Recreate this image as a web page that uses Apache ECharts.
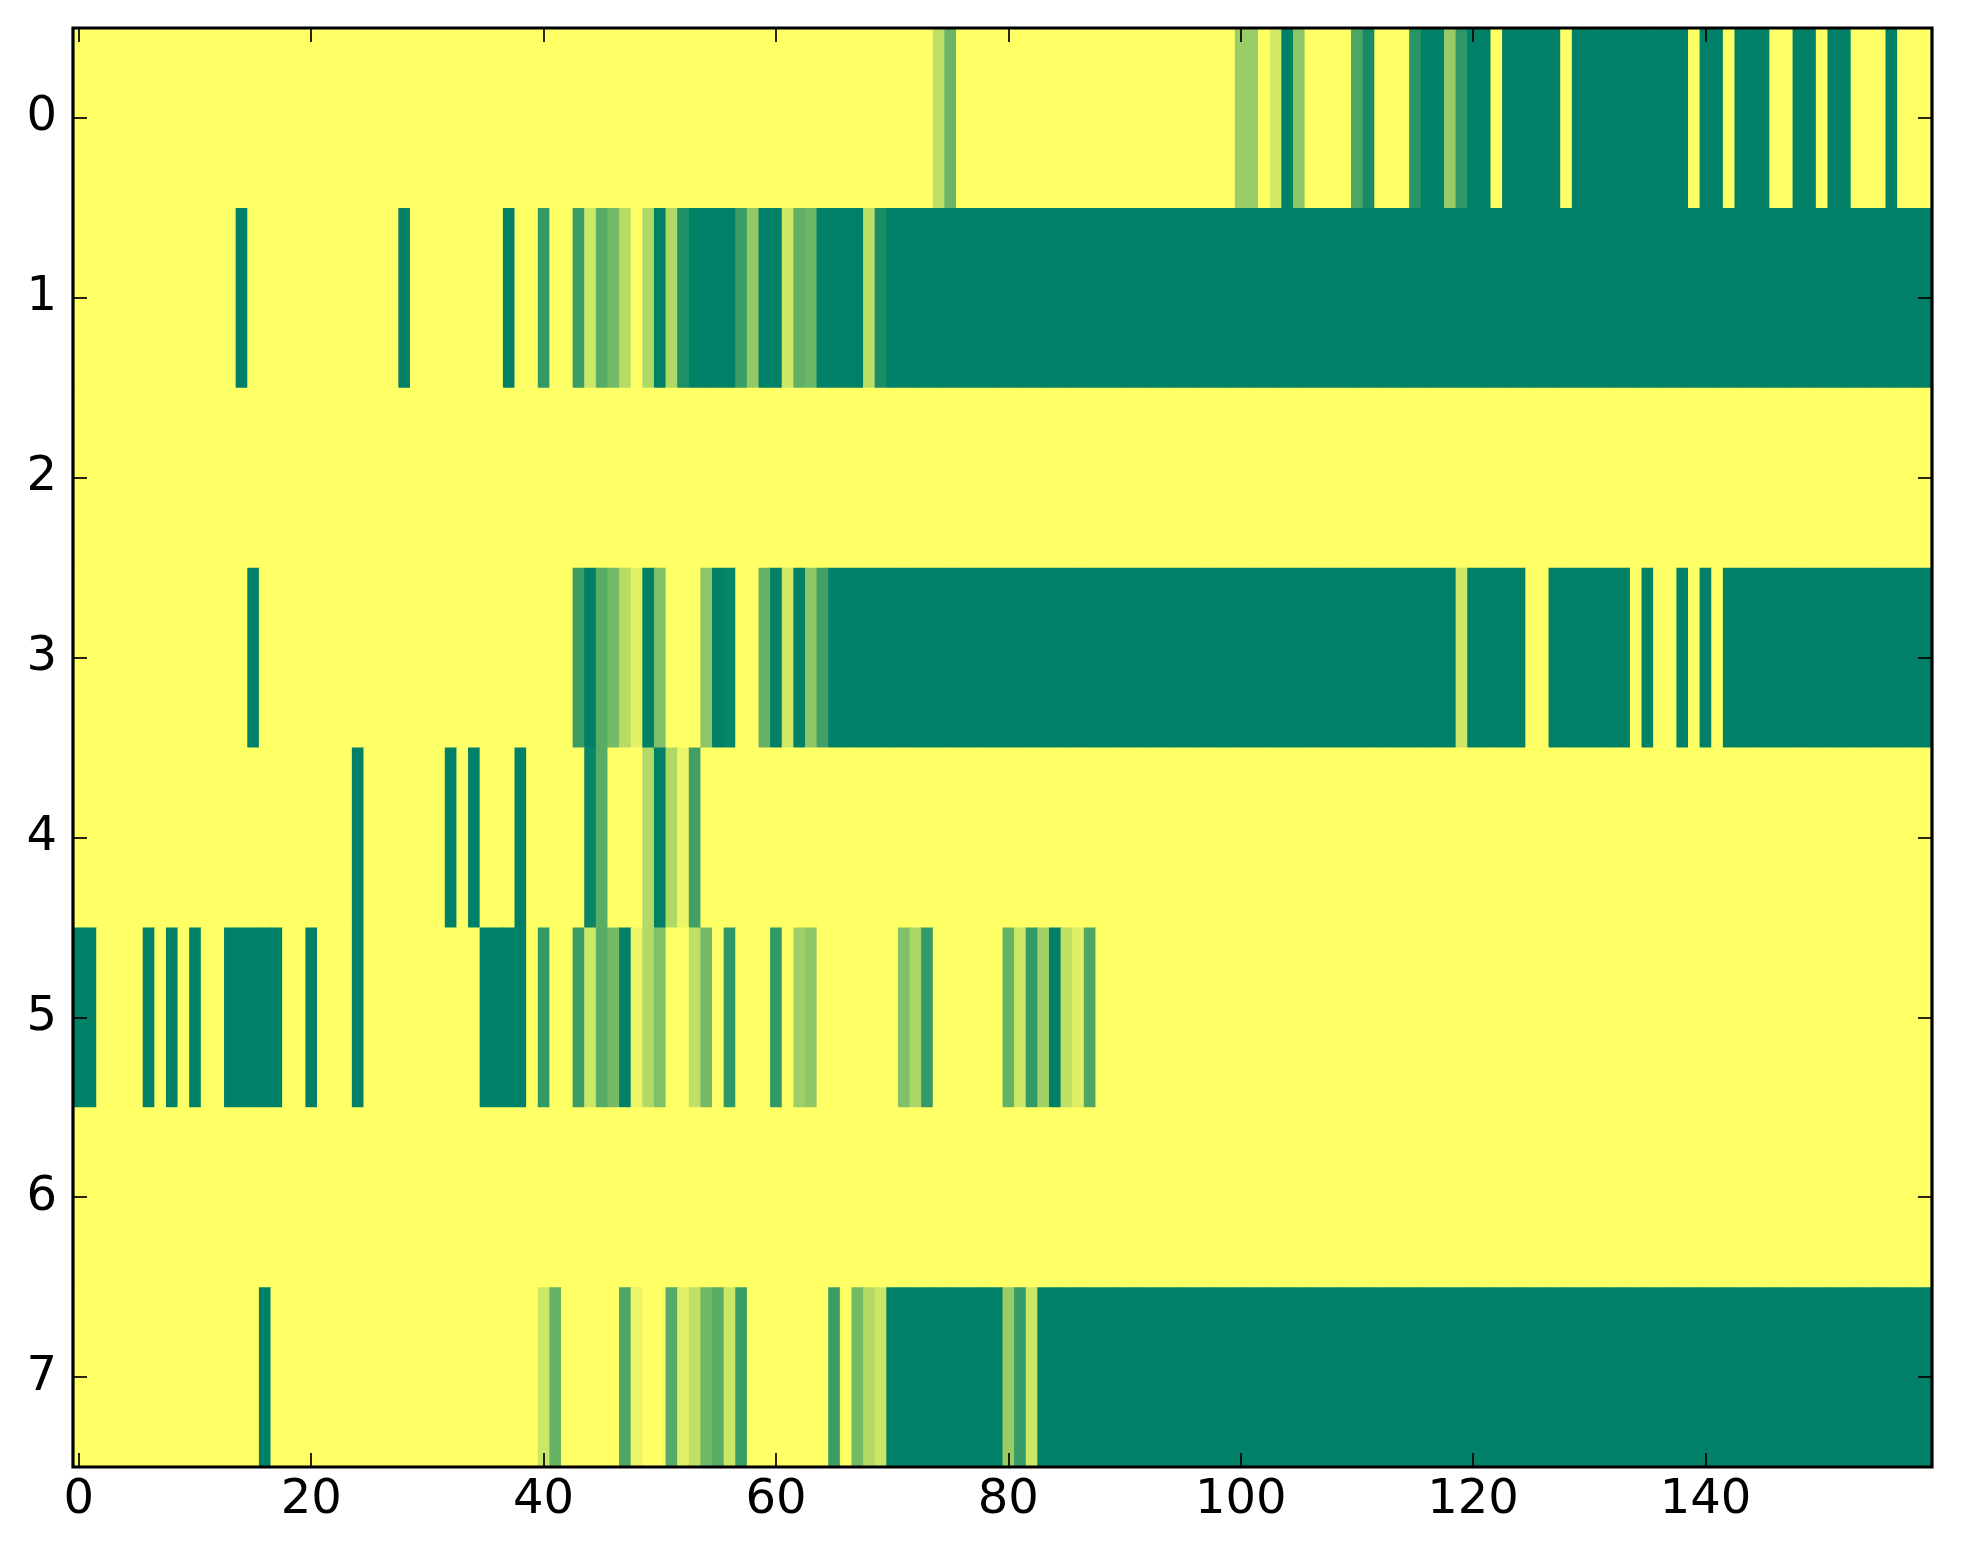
<!DOCTYPE html>
<html>
<head>
<meta charset="utf-8">
<script src="https://cdn.jsdelivr.net/npm/echarts@6/dist/echarts.min.js"></script>
<style>
html,body{margin:0;padding:0;background:#fff;}
#chart{width:1963px;height:1564px;}
</style>
</head>
<body>
<div id="chart"></div>
<script>
// Column and row categories
const colCount = 160;
const xCategories = Array.from({length: colCount}, (_, i) => String(i));
const yCategories = ['0','1','2','3','4','5','6','7'];
const xTickLabels = ['0','20','40','60','80','100','120','140'];

// Cell values per row (0 = yellow, 1 = dark green)
const row0 = [
0,0,0,0,0,0,0,0,0,0, 0,0,0,0,0,0,0,0,0,0,
0,0,0,0,0,0,0,0,0,0, 0,0,0,0,0,0,0,0,0,0,
0,0,0,0,0,0,0,0,0,0, 0,0,0,0,0,0,0,0,0,0,
0,0,0,0,0,0,0,0,0,0, 0,0,0,0,0.25,0.58,0,0,0,0,
0,0,0,0,0,0,0,0,0,0, 0,0,0,0,0,0,0,0,0,0,
0.4,0.4,0,0.17,1,0.44,0,0,0,0, 0.7,0.91,0,0,0,0.84,1,1,0.4,0.82,
1,1,0,1,1,1,1,1,0,1, 1,1,1,1,1,1,1,1,1,0,
1,1,0,1,1,1,0,0,1,1, 0,1,1,0,0,0,1,0,0,0
];
const row1 = [
0,0,0,0,0,0,0,0,0,0, 0,0,0,0,1,0,0,0,0,0,
0,0,0,0,0,0,0,0,1,0, 0,0,0,0,0,0,0,1,0,0,
0.8,0,0,0.77,0.2,0.65,0.54,0.28,0,0.31, 1,0.31,0.88,1,1,1,1,0.77,0.42,1,
1,0.19,0.62,0.58,1,1,1,1,0.27,0.9, 1,1,1,1,1,1,1,1,1,1,
1,1,1,1,1,1,1,1,1,1, 1,1,1,1,1,1,1,1,1,1,
1,1,1,1,1,1,1,1,1,1, 1,1,1,1,1,1,1,1,1,1,
1,1,1,1,1,1,1,1,1,1, 1,1,1,1,1,1,1,1,1,1,
1,1,1,1,1,1,1,1,1,1, 1,1,1,1,1,1,1,1,1,1
];
const row2 = [
0,0,0,0,0,0,0,0,0,0, 0,0,0,0,0,0,0,0,0,0,
0,0,0,0,0,0,0,0,0,0, 0,0,0,0,0,0,0,0,0,0,
0,0,0,0,0,0,0,0,0,0, 0,0,0,0,0,0,0,0,0,0,
0,0,0,0,0,0,0,0,0,0, 0,0,0,0,0,0,0,0,0,0,
0,0,0,0,0,0,0,0,0,0, 0,0,0,0,0,0,0,0,0,0,
0,0,0,0,0,0,0,0,0,0, 0,0,0,0,0,0,0,0,0,0,
0,0,0,0,0,0,0,0,0,0, 0,0,0,0,0,0,0,0,0,0,
0,0,0,0,0,0,0,0,0,0, 0,0,0,0,0,0,0,0,0,0
];
const row3 = [
0,0,0,0,0,0,0,0,0,0, 0,0,0,0,0,1,0,0,0,0,
0,0,0,0,0,0,0,0,0,0, 0,0,0,0,0,0,0,0,0,0,
0,0,0,0.77,1,0.65,0.54,0.28,0.11,1, 0.5,0,0,0,0.45,1,0.97,0,0,0.6,
1,0.18,1,0.44,0.75,1,1,1,1,1, 1,1,1,1,1,1,1,1,1,1,
1,1,1,1,1,1,1,1,1,1, 1,1,1,1,1,1,1,1,1,1,
1,1,1,1,1,1,1,1,1,1, 1,1,1,1,1,1,1,1,1,0.19,
1,1,1,1,1,0,0,1,1,1, 1,1,1,1,0,1,0,0,1,0,
1,0,1,1,1,1,1,1,1,1, 1,1,1,1,1,1,1,1,1,1
];
const row4 = [
0,0,0,0,0,0,0,0,0,0, 0,0,0,0,0,0,0,0,0,0,
0,0,0,0,1,0,0,0,0,0, 0,0,1,0,1,0,0,0,1,0,
0,0,0,0,0.96,0.65,0,0,0,0.3, 1,0.31,0.07,0.75,0,0,0,0,0,0,
0,0,0,0,0,0,0,0,0,0, 0,0,0,0,0,0,0,0,0,0,
0,0,0,0,0,0,0,0,0,0, 0,0,0,0,0,0,0,0,0,0,
0,0,0,0,0,0,0,0,0,0, 0,0,0,0,0,0,0,0,0,0,
0,0,0,0,0,0,0,0,0,0, 0,0,0,0,0,0,0,0,0,0,
0,0,0,0,0,0,0,0,0,0, 0,0,0,0,0,0,0,0,0,0
];
const row5 = [
1,1,0,0,0,0,1,0,1,0, 1,0,0,1,1,1,1,1,0,0,
1,0,0,0,1,0,0,0,0,0, 0,0,0,0,0,1,1,1,1,0,
0.8,0,0,0.77,0.2,0.65,0.54,1,0.08,0.3, 0.5,0,0,0.25,0.54,0,0.81,0,0,0,
0.81,0,0.38,0.44,0,0,0,0,0,0, 0,0.5,0.33,0.8,0,0,0,0,0,0,
0.61,0.2,0.8,0.37,1,0.25,0.12,0.69,0,0, 0,0,0,0,0,0,0,0,0,0,
0,0,0,0,0,0,0,0,0,0, 0,0,0,0,0,0,0,0,0,0,
0,0,0,0,0,0,0,0,0,0, 0,0,0,0,0,0,0,0,0,0,
0,0,0,0,0,0,0,0,0,0, 0,0,0,0,0,0,0,0,0,0
];
const row6 = [
0,0,0,0,0,0,0,0,0,0, 0,0,0,0,0,0,0,0,0,0,
0,0,0,0,0,0,0,0,0,0, 0,0,0,0,0,0,0,0,0,0,
0,0,0,0,0,0,0,0,0,0, 0,0,0,0,0,0,0,0,0,0,
0,0,0,0,0,0,0,0,0,0, 0,0,0,0,0,0,0,0,0,0,
0,0,0,0,0,0,0,0,0,0, 0,0,0,0,0,0,0,0,0,0,
0,0,0,0,0,0,0,0,0,0, 0,0,0,0,0,0,0,0,0,0,
0,0,0,0,0,0,0,0,0,0, 0,0,0,0,0,0,0,0,0,0,
0,0,0,0,0,0,0,0,0,0, 0,0,0,0,0,0,0,0,0,0
];
const row7 = [
0,0,0,0,0,0,0,0,0,0, 0,0,0,0,0,0,1,0,0,0,
0,0,0,0,0,0,0,0,0,0, 0,0,0,0,0,0,0,0,0,0,
0.2,0.6,0,0,0,0,0,0.7,0.08,0, 0,0.67,0.12,0.25,0.56,0.65,0.2,0.77,0,0,
0,0,0,0,0,0.77,0,0.54,0.3,0.2, 1,1,1,1,1,1,1,1,1,1,
0.4,0.79,0.2,1,1,1,1,1,1,1, 1,1,1,1,1,1,1,1,1,1,
1,1,1,1,1,1,1,1,1,1, 1,1,1,1,1,1,1,1,1,1,
1,1,1,1,1,1,1,1,1,1, 1,1,1,1,1,1,1,1,1,1,
1,1,1,1,1,1,1,1,1,1, 1,1,1,1,1,1,1,1,1,1
];
const rows = [row0,row1,row2,row3,row4,row5,row6,row7];

const cells = [];
rows.forEach((r, y) => r.forEach((v, x) => cells.push([x, y, v])));

const FONT = 'DejaVu Sans';
const everyTwenty = (i) => i % 20 === 0;
const tickStyle = {color:'#000', width:1.7};

const chart = echarts.init(document.getElementById('chart'), null, {renderer:'canvas'});
chart.setOption({
  backgroundColor:'#ffffff',
  animation:false,
  grid:{left:73, top:28, right:31, bottom:97, show:true, borderColor:'#000', borderWidth:3.2, backgroundColor:'transparent', containLabel:false, z:10},
  visualMap:{show:false, type:'continuous', dimension:2, seriesIndex:0, min:0, max:1, inRange:{color:['#ffff66','#008066']}},
  xAxis:[
    {type:'category', data:xCategories, position:'bottom', boundaryGap:true,
     axisLine:{show:false}, splitLine:{show:false},
     axisTick:{show:true, inside:true, length:14, alignWithLabel:true, interval:everyTwenty, lineStyle:tickStyle},
     axisLabel:{show:true, interval:everyTwenty, margin:10, fontSize:48, fontFamily:FONT, color:'#000'}, z:11},
    {type:'category', data:xCategories, position:'top', boundaryGap:true,
     axisLine:{show:false}, splitLine:{show:false},
     axisTick:{show:true, inside:true, length:14, alignWithLabel:true, interval:everyTwenty, lineStyle:tickStyle},
     axisLabel:{show:false}, z:11}
  ],
  yAxis:[
    {type:'category', data:yCategories, inverse:true, position:'left', boundaryGap:true,
     axisLine:{show:false}, splitLine:{show:false},
     axisTick:{show:true, inside:true, length:14, alignWithLabel:true, interval:0, lineStyle:tickStyle},
     axisLabel:{show:true, interval:0, margin:16, fontSize:48, fontFamily:FONT, color:'#000'}, z:11},
    {type:'category', data:yCategories, inverse:true, position:'right', boundaryGap:true,
     axisLine:{show:false}, splitLine:{show:false},
     axisTick:{show:true, inside:true, length:14, alignWithLabel:true, interval:0, lineStyle:tickStyle},
     axisLabel:{show:false}, z:11}
  ],
  series:[{
    type:'custom', xAxisIndex:0, yAxisIndex:0, data:cells, clip:true,
    encode:{x:0, y:1},
    renderItem:function(params, api){
      const c = api.coord([api.value(0), api.value(1)]);
      const s = api.size([1, 1]);
      return {
        type:'rect',
        shape:{x:c[0]-s[0]/2, y:c[1]-s[1]/2, width:s[0]+0.8, height:s[1]+0.8},
        style:{fill:api.visual('color')}
      };
    }
  }]
});
</script>
</body>
</html>
